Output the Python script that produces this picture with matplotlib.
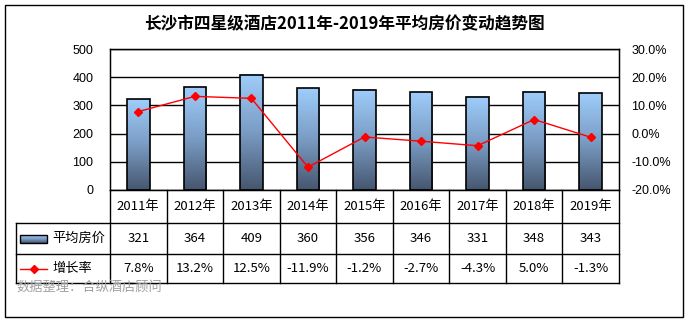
import numpy as np
import matplotlib
matplotlib.use("Agg")
import matplotlib.pyplot as plt
from matplotlib.colors import LinearSegmentedColormap
from matplotlib.patches import Rectangle
from matplotlib.lines import Line2D
from matplotlib.ticker import FuncFormatter

plt.rcParams['font.family'] = ['Noto Sans CJK SC', 'DejaVu Sans']

# ---- data ----
years = ["2011年", "2012年", "2013年", "2014年", "2015年",
         "2016年", "2017年", "2018年", "2019年"]
avg_price = [321, 364, 409, 360, 356, 346, 331, 348, 343]
growth = [7.8, 13.2, 12.5, -11.9, -1.2, -2.7, -4.3, 5.0, -1.3]

title = "长沙市四星级酒店2011年-2019年平均房价变动趋势图"
bar_label = "平均房价"
line_label = "增长率"
source = "数据整理：合纵酒店顾问"

# ---- figure geometry (pixels) ----
W, H = 688, 322
fig = plt.figure(figsize=(W / 100, H / 100), dpi=100)
PL, PR, PT, PB = 110, 619, 49, 190
ax = fig.add_axes([PL / W, 1 - PB / H, (PR - PL) / W, (PB - PT) / H])

cmap = LinearSegmentedColormap.from_list("bar", ["#46566e", "#7a9cc4", "#9fcdfb"])
grad = np.linspace(0, 1, 256).reshape(-1, 1)

n = len(years)
x = np.arange(n)
bw = 0.4
for xi, v in zip(x, avg_price):
    ax.imshow(grad, extent=[xi - bw / 2, xi + bw / 2, 0, v], origin="lower",
              aspect="auto", cmap=cmap, zorder=2)
    ax.add_patch(Rectangle((xi - bw / 2, 0), bw, v, facecolor="none",
                           edgecolor="black", lw=1.2, zorder=3))

ax.set_xlim(-0.5, n - 0.5)
ax.set_ylim(0, 500)
ax.set_yticks(range(0, 501, 100))
ax.yaxis.grid(True, color="black", lw=1)
ax.set_axisbelow(True)
ax.set_xticks([])
ax.tick_params(axis="y", length=0, pad=12)
for lab in ax.get_yticklabels():
    lab.set_fontfamily("Liberation Sans")
    lab.set_fontsize(9)
for s in ax.spines.values():
    s.set_color("black")
    s.set_linewidth(1)

ax2 = ax.twinx()
ax2.plot(x, growth, color="red", lw=1, marker="D", ms=4.5, zorder=5)
ax2.set_ylim(-20, 30)
ax2.set_yticks(range(-20, 31, 10))
ax2.yaxis.set_major_formatter(FuncFormatter(lambda v, p: f"{v:.1f}%"))
ax2.tick_params(axis="y", length=0, pad=9)
for lab in ax2.get_yticklabels():
    lab.set_fontfamily("Liberation Sans")
    lab.set_fontsize(9)
ax2.set_xlim(-0.5, n - 0.5)

# ---- overlay in pixel coordinates for title, table and border ----
ov = fig.add_axes([0, 0, 1, 1], zorder=10)
ov.set_xlim(0, W)
ov.set_ylim(H, 0)
ov.axis("off")
ov.patch.set_alpha(0)

ov.add_patch(Rectangle((5, 5), 678, 312, facecolor="none", edgecolor="black", lw=1))
ov.text(W / 2, 24, title, ha="center", va="center", fontsize=12, fontweight="bold")

cw = (PR - PL) / n
LX = 16
r0, r1, r2, r3 = PB, 223, 254, 283
kw = dict(color="black", lw=1)
# column separators
for i in range(n + 1):
    ov.add_line(Line2D([PL + i * cw] * 2, [r0, r3], **kw))
ov.add_line(Line2D([LX, LX], [r1, r3], **kw))
for yy in (r1, r2, r3):
    ov.add_line(Line2D([LX, PR], [yy, yy], **kw))

tfs = 9.5
for i in range(n):
    cx = PL + (i + 0.5) * cw
    ov.text(cx, (r0 + r1) / 2, years[i], ha="center", va="center", fontsize=tfs)
    ov.text(cx, (r1 + r2) / 2, f"{avg_price[i]}", ha="center", va="center", fontsize=tfs)
    ov.text(cx, (r2 + r3) / 2, f"{growth[i]:.1f}%", ha="center", va="center", fontsize=tfs)

# legend keys
ym = (r1 + r2) / 2
ov.imshow(grad[::-1], extent=[20, 47, ym + 4, ym - 4], cmap=cmap, aspect="auto", zorder=11)
ov.add_patch(Rectangle((20, ym - 4), 27, 8, facecolor="none", edgecolor="black", lw=1, zorder=12))
ov.text(52, ym, bar_label, ha="left", va="center", fontsize=tfs)
ym2 = (r2 + r3) / 2
ov.add_line(Line2D([20, 33.5, 47], [ym2, ym2, ym2], color="red", lw=1, marker="D", ms=4.5,
                   markevery=[1], zorder=12))
ov.text(52, ym2, line_label, ha="left", va="center", fontsize=tfs)

ov.text(16, 287, source, ha="left", va="center", fontsize=9.5, color="#a0a0a0")
ov.set_xlim(0, W)
ov.set_ylim(H, 0)

fig.savefig("out.png", dpi=100)
